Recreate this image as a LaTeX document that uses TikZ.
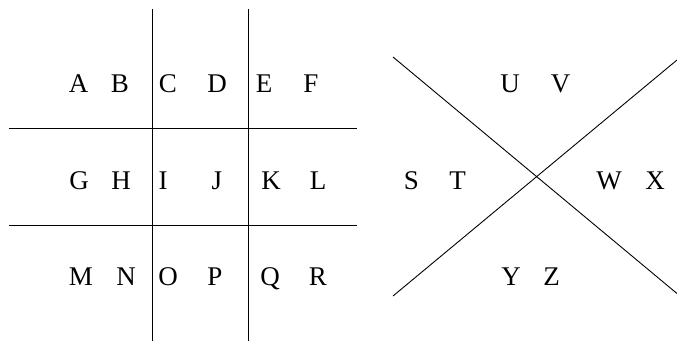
\documentclass[tikz,border=0pt]{standalone}
\usepackage{fontspec}
\setmainfont{Liberation Serif}
\begin{document}
\begin{tikzpicture}[x=1pt,y=-1pt,
  letter/.style={anchor=base,inner sep=0pt,font=\fontsize{27}{27}\selectfont},
  grid/.style={line width=0.9pt,black}]
\useasboundingbox (0,0) rectangle (677,341);
% left grid
\draw[grid] (152.5,9) -- (152.5,341);
\draw[grid] (248.5,9) -- (248.5,341);
\draw[grid] (9,128.5) -- (357,128.5);
\draw[grid] (9,225) -- (357,225);
% letters row 1
\node[letter] (A) at (78.5,92.5) {A};
\node[letter] (B) at (120,92.5) {B};
\node[letter] (C) at (168,92.5) {C};
\node[letter] (D) at (217,92.5) {D};
\node[letter] (E) at (264,92.5) {E};
\node[letter] (F) at (311,92.5) {F};
% row 2
\node[letter] (G) at (79,189) {G};
\node[letter] (H) at (121,189) {H};
\node[letter] (I) at (163,189) {I};
\node[letter] (J) at (217,189) {J};
\node[letter] (K) at (271,189) {K};
\node[letter] (L) at (318,189) {L};
% row 3
\node[letter] (M) at (81,285) {M};
\node[letter] (N) at (126,285) {N};
\node[letter] (O) at (168,285) {O};
\node[letter] (P) at (215,285) {P};
\node[letter] (Q) at (270,285) {Q};
\node[letter] (R) at (318,285) {R};
% X diagram
\draw[grid] (393,57) -- (677,293.5);
\draw[grid] (393,296) -- (677,60);
\node[letter] (U) at (510,92.5) {U};
\node[letter] (V) at (560.5,92.5) {V};
\node[letter] (S) at (411.5,189) {S};
\node[letter] (T) at (457.5,189) {T};
\node[letter] (W) at (609,189) {W};
\node[letter] (X) at (655,189) {X};
\node[letter] (Y) at (511,285) {Y};
\node[letter] (Z) at (551.5,285) {Z};
\end{tikzpicture}
\end{document}
